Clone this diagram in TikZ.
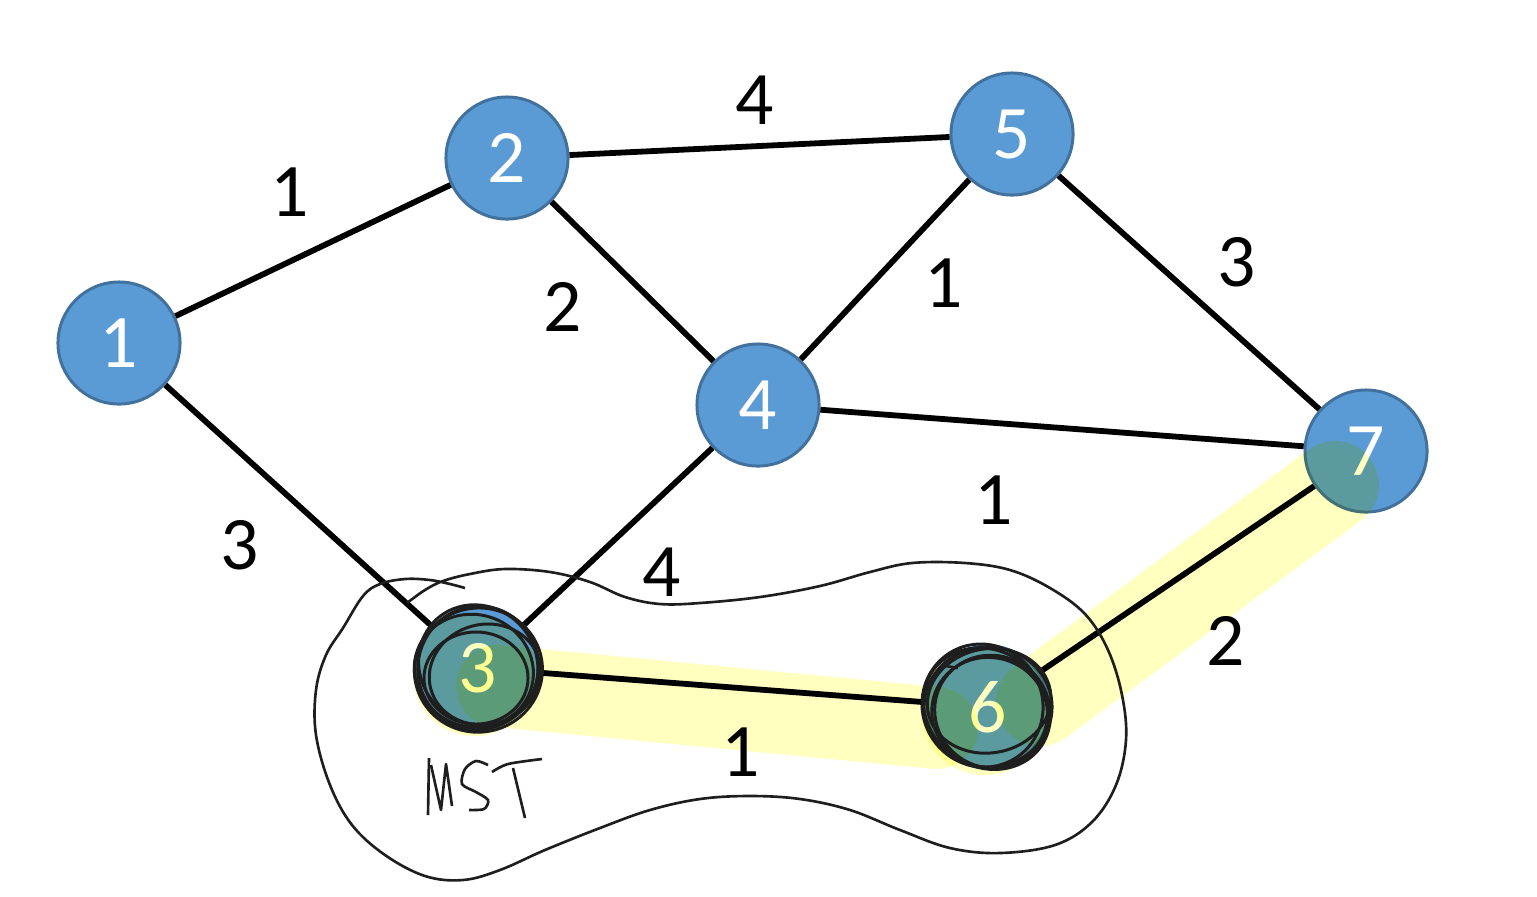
\documentclass[tikz,border=0pt]{standalone}
\usepackage{fontspec}
\setmainfont{Carlito}
\definecolor{nodeblue}{HTML}{5B9BD5}
\definecolor{nodeline}{HTML}{41719C}
\definecolor{marker}{HTML}{FFFFC0}
\definecolor{pen}{HTML}{1E1E1E}
\tikzset{
  vertex/.style={circle, draw=nodeline, fill=nodeblue, line width=0.85pt,
    minimum size=1.22cm, inner sep=0pt, text=white,
    font=\fontsize{21.5}{26}\selectfont},
  weight/.style={inner sep=0pt, font=\fontsize{21.5}{26}\selectfont},
  edge/.style={line width=1.65pt},
  highlight/.style={draw=marker, line cap=round, line join=round},
  scribble/.style={pen, line width=0.75pt},
}
\begin{document}
\begin{tikzpicture}[x=0.01cm, y=-0.01cm]
    \useasboundingbox (0,0) rectangle (1537,896);
    \node[vertex] (n1) at (119,343) {1};
    \node[vertex] (n2) at (507,158) {2};
    \node[vertex] (n5) at (1012,134) {5};
    \node[vertex] (n4) at (758,405) {4};
    \node[vertex] (n7) at (1366,451) {7};
    \node[vertex] (n3) at (478,668) {3};
    \node[vertex] (n6) at (988,707) {6};

    \draw[edge] (n1)--(n2);
    \draw[edge] (n1)--(n3);
    \draw[edge] (n2)--(n5);
    \draw[edge] (n2)--(n4);
    \draw[edge] (n5)--(n4);
    \draw[edge] (n5)--(n7);
    \draw[edge] (n4)--(n7);
    \draw[edge] (n4)--(n3);
    \draw[edge] (n3)--(n6);
    \draw[edge] (n6)--(n7);

    \node[weight] (w12) at (290,192) {1};
    \node[weight] (w25) at (755,100) {4};
    \node[weight] (w24) at (563,307) {2};
    \node[weight] (w45) at (944,283) {1};
    \node[weight] (w57) at (1237,262) {3};
    \node[weight] (w13) at (240,545) {3};
    \node[weight] (w34) at (662,572) {4};
    \node[weight] (w47) at (994,500) {1};
    \node[weight] (w67) at (1226,641) {2};
    \node[weight] (w36) at (741,752) {1};

    \begin{scope}[blend mode=multiply]
    \fill[marker] (474,675) circle (0.61cm);
    \fill[marker] (985,711) circle (0.64cm);
    \draw[highlight, line width=0.82cm] (497,686)--(937,728);
    \draw[highlight, line width=0.88cm] (1040,702)--(1335,485);
    \end{scope}

    \foreach \a/\rx/\ry/\dx/\dy in {10/0.64/0.62/0/2, -20/0.60/0.56/-3/4, 40/0.58/0.62/2/-2,
        15/0.56/0.50/5/8, 0/0.52/0.46/-2/10, 70/0.62/0.60/0/0}
      \draw[scribble, line width=0.85pt, rotate around={\a:(n3)}] ([shift={(\dx,\dy)}]n3.center) ellipse [x radius=\rx cm, y radius=\ry cm];
    \foreach \a/\rx/\ry/\dx/\dy in {0/0.64/0.60/0/0, 30/0.60/0.62/-4/-4, -15/0.58/0.55/3/5,
        10/0.62/0.52/2/-6, 60/0.56/0.58/-2/6, -35/0.66/0.58/0/2}
      \draw[scribble, line width=0.85pt, rotate around={\a:(n6)}] ([shift={(\dx,\dy)}]n6.center) ellipse [x radius=\rx cm, y radius=\ry cm];
    \draw[scribble] (946,666)--(958,668);

    \draw[scribble] plot[smooth, tension=0.6] coordinates {(407,603) (425,590) (443,581) (470,574)
      (505,569) (550,572) (590,582) (625,597) (660,604) (700,603) (760,597) (820,586) (870,572)
      (912,563) (965,563) (1010,570) (1050,588) (1085,614) (1108,650) (1122,695) (1126,740)
      (1116,785) (1092,822) (1055,845) (1000,853) (950,848) (900,830) (850,810) (800,799)
      (750,796) (700,799) (650,810) (600,828) (545,850) (500,870) (463,880) (425,876) (385,855)
      (352,825) (330,785) (316,735) (316,690) (326,655) (343,628) (363,596) (380,584) (405,579)
      (430,580) (450,584) (465,588)};

    \draw[scribble, line join=round] (429,758)--(428,815);
    \draw[scribble, line join=round] (431,765)--(441,810)--(446,764)--(452,806);
    \draw[scribble] plot[smooth] coordinates {(488,765) (476,761) (465,769) (462,784) (476,792)
      (488,800) (484,809) (469,810)};
    \draw[scribble] plot[smooth] coordinates {(492,772) (508,764) (542,759)};
    \draw[scribble] (513,768)--(525,818);
\end{tikzpicture}
\end{document}
